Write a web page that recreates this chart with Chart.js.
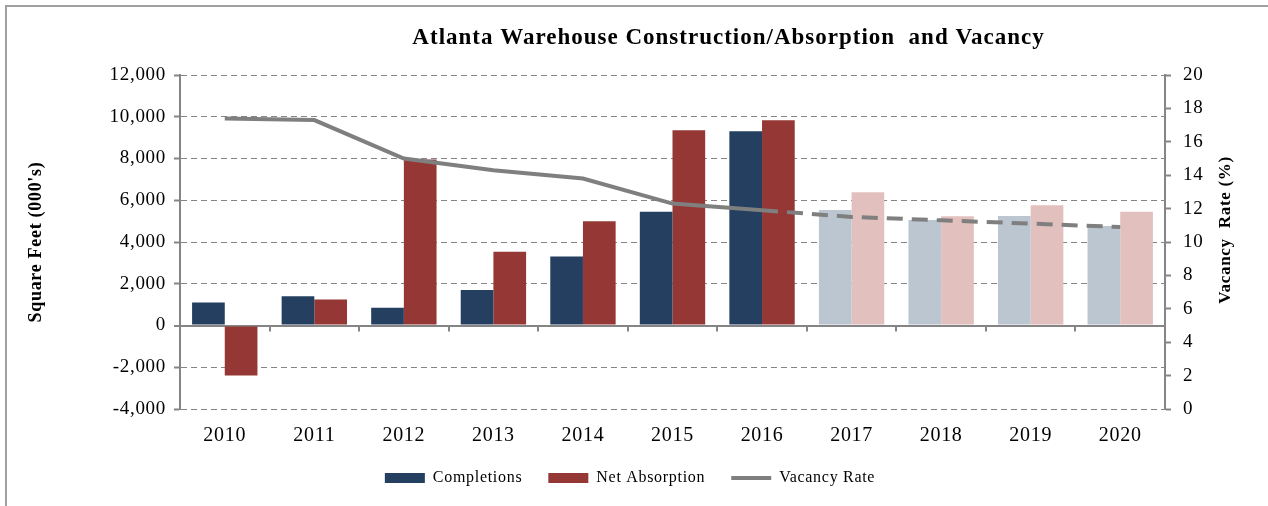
<!DOCTYPE html>
<html>
<head>
<meta charset="utf-8">
<script src="https://cdn.jsdelivr.net/npm/chart.js@4/dist/chart.umd.min.js"></script>
<style>
  html, body { margin: 0; padding: 0; background: #fff; }
</style>
</head>
<body>
<canvas id="myChart" width="1268" height="506"></canvas>
<script>
const years = ['2010', '2011', '2012', '2013', '2014', '2015', '2016', '2017', '2018', '2019', '2020'];
const completions = [1100, 1400, 850, 1700, 3300, 5450, 9300, 5530, 5050, 5250, 4770];
const netAbsorption = [-2400, 1250, 7950, 3530, 5000, 9350, 9830, 6380, 5230, 5760, 5450];
const vacancyRate = [17.4, 17.3, 15.0, 14.3, 13.8, 12.3, 11.9, 11.5, 11.3, 11.1, 10.9];
const firstForecast = 7; // 2017 onwards is projected

const serif = "'Liberation Serif', 'Times New Roman', serif";
const gray = '#858585';

// the original text is set wide, open the letters up a touch
const spacing = {
  id: 'spacing',
  beforeUpdate(chart) { chart.ctx.letterSpacing = '0.7px'; },
  beforeDraw(chart) { chart.ctx.letterSpacing = '0.7px'; }
};

// left and top edge of the frame
const framePlugin = {
  id: 'frame',
  beforeDraw(chart) {
    const c = chart.ctx;
    c.save();
    c.fillStyle = '#fff';
    c.fillRect(0, 0, chart.width, chart.height);
    c.strokeStyle = '#a0a0a0';
    c.lineWidth = 2;
    c.beginPath();
    c.moveTo(6, chart.height);
    c.lineTo(6, 6);
    c.lineTo(chart.width, 6);
    c.stroke();
    c.restore();
  }
};

// chart title (a bit right of centre) and the right axis title, which reads bottom to top
const texts = {
  id: 'texts',
  afterDraw(chart) {
    const c = chart.ctx;
    const a = chart.chartArea;
    c.save();
    c.fillStyle = '#000';
    c.textAlign = 'center';
    c.textBaseline = 'middle';
    c.letterSpacing = '1px';
    c.font = 'bold 23px ' + serif;
    c.fillText('Atlanta Warehouse Construction/Absorption  and Vacancy', (a.left + a.right) / 2 + 56, 38);
    c.letterSpacing = '0.7px';
    c.translate(a.right + 61, (a.top + a.bottom) / 2 - 12);
    c.rotate(-Math.PI / 2);
    c.font = 'bold 17px ' + serif;
    c.fillText('Vacancy  Rate (%)', 0, 0);
    c.restore();
  }
};

// small marks between the year groups, hanging from the zero line
const zeroTicks = {
  id: 'zeroTicks',
  afterDatasetsDraw(chart) {
    const x = chart.scales.x;
    const y0 = chart.scales.y.getPixelForValue(0);
    const c = chart.ctx;
    c.save();
    c.strokeStyle = gray;
    c.lineWidth = 2;
    c.beginPath();
    for (let i = 1; i < years.length; i++) {
      const px = Math.round((x.getPixelForTick(i - 1) + x.getPixelForTick(i)) / 2);
      c.moveTo(px, y0);
      c.lineTo(px, y0 + 6);
    }
    c.stroke();
    c.restore();
  }
};

const ctx = document.getElementById('myChart');

const data = {
  labels: years,
  datasets: [
    {
      type: 'bar',
      label: 'Completions',
      data: completions,
      yAxisID: 'y',
      order: 1,
      backgroundColor: c => c.dataIndex >= firstForecast ? '#bcc6d1' : '#243f60',
      categoryPercentage: 0.73,
      barPercentage: 1.0
    },
    {
      type: 'bar',
      label: 'Net Absorption',
      data: netAbsorption,
      yAxisID: 'y',
      order: 1,
      backgroundColor: c => c.dataIndex >= firstForecast ? '#e2c0be' : '#953735',
      categoryPercentage: 0.73,
      barPercentage: 1.0
    },
    {
      type: 'line',
      label: 'Vacancy Rate',
      data: vacancyRate,
      yAxisID: 'y1',
      order: 0,
      borderColor: '#7f7f7f',
      backgroundColor: '#7f7f7f',
      borderWidth: 4,
      pointRadius: 0,
      tension: 0,
      segment: {
        borderDash: s => s.p0DataIndex >= firstForecast - 1 ? [16, 9] : undefined
      }
    }
  ]
};

const config = {
  type: 'bar',
  data: data,
  plugins: [spacing, framePlugin, texts, zeroTicks],
  options: {
    responsive: false,
    animation: false,
    devicePixelRatio: 1,
    layout: { padding: { top: 75, left: 0, right: 8, bottom: 10 } },
    plugins: {
      title: { display: false },
      tooltip: { enabled: false },
      legend: {
        position: 'bottom',
        labels: {
          font: { family: serif, size: 16 },
          color: '#000',
          usePointStyle: true,
          pointStyleWidth: 40,
          boxHeight: 10,
          padding: 26,
          sort: (a, b) => a.datasetIndex - b.datasetIndex,
          generateLabels: chart => {
            const items = Chart.defaults.plugins.legend.labels.generateLabels(chart);
            items.forEach(it => {
              if (it.datasetIndex === 2) {
                it.pointStyle = 'line';
                it.lineWidth = 4;
                it.strokeStyle = '#7f7f7f';
              } else {
                it.pointStyle = 'rect';
                it.lineWidth = 0;
              }
            });
            return items;
          }
        }
      }
    },
    scales: {
      x: {
        grid: { display: false, drawTicks: false },
        border: { display: false },
        ticks: { font: { family: serif, size: 20 }, color: '#000', padding: 15 },
        afterFit: s => { s.height = 35; }
      },
      y: {
        position: 'left',
        min: -4000,
        max: 12000,
        ticks: {
          stepSize: 2000,
          font: { family: serif, size: 19 },
          color: '#000',
          padding: 8,
          callback: v => v.toLocaleString('en-US')
        },
        grid: {
          color: gray,
          lineWidth: c => c.tick && c.tick.value === 0 ? 2 : 1,
          tickLength: 6,
          tickColor: gray,
          tickWidth: 2
        },
        border: {
          display: true,
          color: gray,
          width: 2,
          dash: c => c.tick && c.tick.value === 0 ? [] : [6, 4]
        },
        title: {
          display: true,
          text: "Square Feet (000's)",
          font: { family: serif, size: 18, weight: 'bold' },
          color: '#000',
          padding: { top: 26, bottom: 0 }
        },
        afterFit: s => { s.width = 180; }
      },
      y1: {
        position: 'right',
        min: 0,
        max: 20,
        ticks: { stepSize: 2, font: { family: serif, size: 19 }, color: '#000', padding: 12 },
        grid: { drawOnChartArea: false, tickLength: 6, tickColor: gray, tickWidth: 2 },
        border: { display: true, color: gray, width: 2 },
        afterFit: s => { s.width = 95; }
      }
    }
  }
};

const myChart = new Chart(ctx, config);
</script>
</body>
</html>
